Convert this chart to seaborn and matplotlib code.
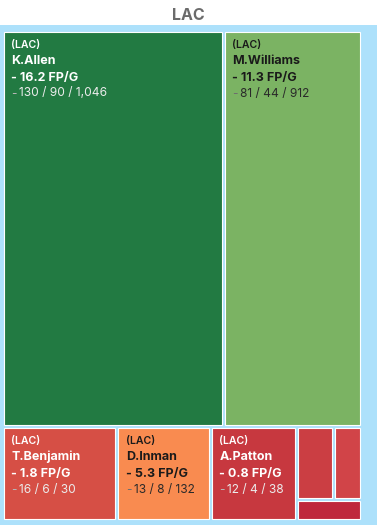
import matplotlib
matplotlib.use("Agg")
import matplotlib.pyplot as plt
import matplotlib.patches as mpatches
import seaborn as sns
import pandas as pd

# data
team = "LAC"
players = ["K.Allen", "M.Williams", "T.Benjamin", "D.Inman", "A.Patton", "", "", ""]
fp_per_game = [16.2, 11.3, 1.8, 5.3, 0.8, 0.0, 0.0, 0.0]
stat_a = [130, 81, 16, 13, 12, 4, 3, 2]
stat_b = [90, 44, 6, 8, 4, 0, 0, 0]
stat_c = [1046, 912, 30, 132, 38, 0, 0, 0]
tile_colors = ["#227a42", "#7bb363", "#d64f45", "#f98b50", "#c7383f",
               "#cb3e43", "#d14448", "#bf283c"]

GOLDEN = 0.5 * (1 + 5 ** 0.5)


def worst(areas, fixed):
    total = sum(areas)
    f = fixed * fixed * GOLDEN
    return max(f * max(areas) / (total * total), total * total / (f * min(areas)))


def position(row, fixed, rect, half_gap, flush, out):
    # row laid along the fixed side of the remaining rect (echarts style)
    i0 = 0 if fixed == rect["w"] else 1
    i1 = 1 - i0
    xy = ["x", "y"]
    wh = ["w", "h"]
    area = sum(a for _, a in row)
    last = rect[xy[i0]]
    other = area / fixed if fixed else 0
    if flush or other > rect[wh[i1]]:
        other = rect[wh[i1]]
    for k, (idx, a) in enumerate(row):
        step = a / other if other else 0
        box = {}
        box[wh[i1]] = max(other - 2 * half_gap, 0)
        remain = rect[xy[i0]] + rect[wh[i0]] - last
        mod = remain if (k == len(row) - 1 or remain < step) else step
        box[wh[i0]] = max(mod - 2 * half_gap, 0)
        box[xy[i1]] = rect[xy[i1]] + min(half_gap, box[wh[i1]] / 2)
        box[xy[i0]] = last + min(half_gap, box[wh[i0]] / 2)
        last += mod
        out[idx] = box
    rect[xy[i1]] += other
    rect[wh[i1]] -= other


def squarify(values, x, y, w, h, half_gap=1.0):
    total = sum(values)
    order = sorted(range(len(values)), key=lambda i: -values[i])
    areas = [(i, values[i] / total * w * h) for i in order]
    rect = {"x": x, "y": y, "w": w, "h": h}
    out = {}
    row = []
    best = float("inf")
    fixed = min(w, h)
    k = 0
    while k < len(areas):
        row.append(areas[k])
        score = worst([a for _, a in row], fixed)
        if score <= best:
            best = score
            k += 1
        else:
            row.pop()
            position(row, fixed, rect, half_gap, False, out)
            fixed = min(rect["w"], rect["h"])
            row = []
            best = float("inf")
    if row:
        position(row, fixed, rect, half_gap, True, out)
    return [out[i] for i in range(len(values))]


def is_light(hex_color):
    r, g, b = matplotlib.colors.to_rgb(hex_color)
    return 0.299 * r + 0.587 * g + 0.114 * b > 0.55


df = pd.DataFrame({
    "player": players,
    "fpg": fp_per_game,
    "a": stat_a,
    "b": stat_b,
    "c": stat_c,
    "color": tile_colors,
})

sns.set_theme(style="white")
plt.rcParams["font.family"] = ["Inter", "DejaVu Sans"]

W, H = 377, 525
fig = plt.figure(figsize=(W / 100, H / 100), dpi=100)
ax = fig.add_axes([0, 0, 1, 1])
ax.set_xlim(0, W)
ax.set_ylim(H, 0)
ax.axis("off")

# light blue panel behind the tiles
ax.add_patch(mpatches.Rectangle((0, 25), W, H - 25, facecolor="#ade1fb",
                                edgecolor="none", zorder=0))
ax.text(W / 2, 20, team, ha="center", va="baseline", fontsize=11.5,
        fontweight="bold", color="#6b6b6b")

boxes = squarify(df["a"].tolist(), 2, 30, 359, 490, half_gap=1.0)

for (_, r), box in zip(df.iterrows(), boxes):
    ax.add_patch(mpatches.Rectangle((box["x"] + 0.5, box["y"] + 0.5),
                                    box["w"] - 1, box["h"] - 1,
                                    facecolor=r["color"], edgecolor="white",
                                    linewidth=0.8, zorder=1))
    if not r["player"]:
        continue
    light = is_light(r["color"])
    main = "#1a1a1a" if light else "white"
    stat_col = "#2a2a2a" if light else "#ececec"
    dash_col = "#6e6e6e" if light else "#b5b5b5"
    x0 = box["x"] + 8
    y0 = box["y"]
    ax.text(x0, y0 + 17, f"({team})", fontsize=7.6, fontweight="semibold",
            color=main, va="baseline", zorder=2)
    ax.text(x0, y0 + 32.5, r["player"], fontsize=9.0, fontweight="bold",
            color=main, va="baseline", zorder=2)
    ax.text(x0, y0 + 50, f"- {r['fpg']:.1f} FP/G", fontsize=9.0,
            fontweight="bold", color=main, va="baseline", zorder=2)
    ax.text(x0, y0 + 65.5, "-", fontsize=8.6, color=dash_col,
            va="baseline", zorder=2)
    ax.text(x0 + 8, y0 + 65.5, f"{r['a']:,} / {r['b']:,} / {r['c']:,}",
            fontsize=8.6, color=stat_col, va="baseline", zorder=2)

fig.savefig("out.png", dpi=100)
